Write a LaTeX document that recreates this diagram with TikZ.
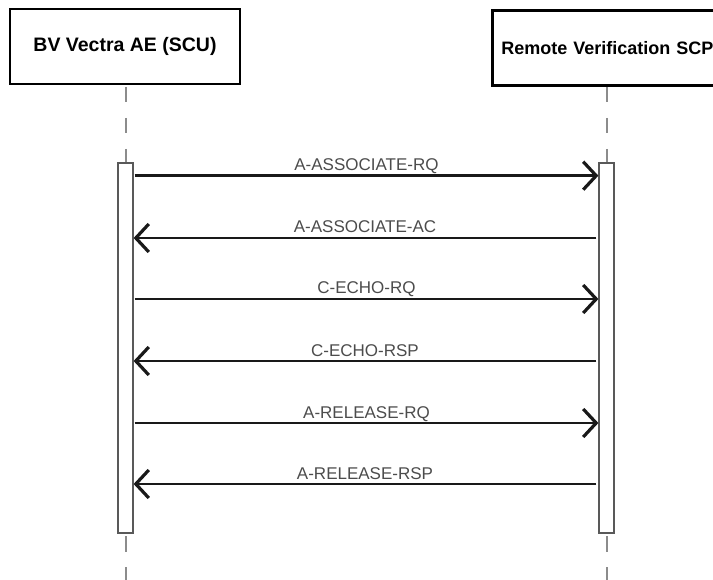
\documentclass[tikz,border=0pt]{standalone}
\usepackage{fontspec}
\setmainfont{Liberation Sans}
\usetikzlibrary{arrows.meta}

\begin{document}
\begin{tikzpicture}[x=1pt,y=-1pt]
\tikzstyle{every node}+=[inner sep=0pt]
\tikzstyle{actor}=[draw=black, line width=2.8pt, minimum height=75pt]
\tikzstyle{actbar}=[draw=black!65, line width=1.2pt, fill=white, minimum width=15pt, minimum height=370pt]
\tikzstyle{lifeline}=[draw=black!45, line width=2pt]
\tikzstyle{msg}=[draw=black!90, line width=2.7pt, -{Straight Barb[length=13pt,width=28pt,line width=3.2pt]}]
\tikzstyle{msglabel}=[text=black!70, font=\fontsize{17}{19}\selectfont, anchor=base, yshift=5pt]
\useasboundingbox (0,0) rectangle (713,580);
% the two parties
\node [actor, minimum width=230pt, font=\bfseries\fontsize{19.5}{22}\selectfont] (scu) at (125,46.5) {BV Vectra AE (SCU)};
\node [actor, anchor=north west, text width=250pt, inner xsep=9pt, align=left, font=\bfseries\fontsize{18}{20}\selectfont] (scp) at (491,9) {Remote Verification SCP};
% activation bars
\node [actbar] (barL) at (125.5,348) {};
\node [actbar] (barR) at (606.5,348) {};
% lifelines
\draw [lifeline, dash pattern=on 15pt off 16pt] (barL.north |- 0,87) -- (barL.north);
\draw [lifeline, dash pattern=on 15pt off 16pt] (barR.north |- 0,87) -- (barR.north);
\draw [lifeline, dash pattern=on 16pt off 15pt] (barL.south |- 0,536) -- (barL.south |- 0,580);
\draw [lifeline, dash pattern=on 16pt off 15pt] (barR.south |- 0,536) -- (barR.south |- 0,580);
% requests
\foreach \y/\lbl in {175.7/A-ASSOCIATE-RQ, 299/C-ECHO-RQ, 423/A-RELEASE-RQ}
  \draw [msg] ([xshift=1pt]barL.east |- 0,\y) -- (barR.west |- 0,\y) node [msglabel, midway] {\lbl};
% responses
\foreach \y/\lbl in {238/A-ASSOCIATE-AC, 361/C-ECHO-RSP, 484/A-RELEASE-RSP}
  \draw [msg] ([xshift=-2pt]barR.west |- 0,\y) -- (barL.east |- 0,\y) node [msglabel, midway] {\lbl};
\end{tikzpicture}
\end{document}
